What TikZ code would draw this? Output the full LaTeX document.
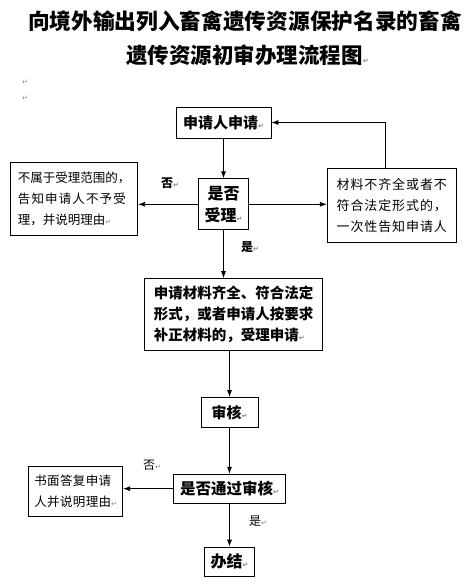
\documentclass[tikz,border=0pt]{standalone}
\usepackage{fontspec}
\setmainfont{Noto Sans CJK SC}
\newfontfamily\arrfont{DejaVu Sans}
\usepackage{tikz}
\usetikzlibrary{positioning,arrows.meta}
\newcommand{\ret}{{\arrfont\fontsize{7}{7}\selectfont\textcolor{gray}{↵}}}

\begin{document}
\begin{tikzpicture}[x=1pt,y=-1pt,>={Latex[length=7pt,width=5pt]},line width=0.8pt,
                    box/.style={draw, line width=0.8pt, align=center, inner sep=0pt},
                    bigb/.style={font=\bfseries\fontsize{15.5}{21}\selectfont},
                    smallt/.style={font=\fontsize{12.5}{21}\selectfont},
                    lab/.style={inner sep=0pt, font=\fontsize{12}{12}\selectfont}]
\useasboundingbox (0,0) rectangle (470,584);
\node[font=\bfseries\fontsize{21.7}{22}\selectfont, inner sep=0pt] (title1) at (245,21) {向境外输出列入畜禽遗传资源保护名录的畜禽};
\node[font=\bfseries\fontsize{21.5}{22}\selectfont, anchor=west, inner sep=0pt] (title2) at (126,55) {遗传资源初审办理流程图\ret};
\node[inner sep=0pt] (mark1) at (25,82) {\ret};
\node[inner sep=0pt] (mark2) at (25,98) {\ret};
\node[box, font=\bfseries\fontsize{15}{15}\selectfont, minimum width=95pt, minimum height=31pt] (apply) at (223.5,122.5) {申请人申请\ret};
\node[box, font=\bfseries\fontsize{16}{22}\selectfont, minimum width=50pt, minimum height=51pt, below=40pt of apply] (accept) {是否\\受理\ret};
\node[box, smallt, align=left, minimum width=127pt, minimum height=73pt, left=60pt of accept, yshift=5pt] (reject) {不属于受理范围的，\\{\addfontfeature{LetterSpace=9}告知申请人不予受}\\理，并说明理由\ret};
\node[box, font=\fontsize{13}{21}\selectfont\addfontfeature{LetterSpace=7}, minimum width=129pt, minimum height=74pt, right=78pt of accept, yshift=-1.5pt] (notify) {材料不齐全或者不\\符合法定形式的，\\一次性告知申请人};
\node[box, font=\bfseries\fontsize{14.5}{21}\selectfont, align=left, minimum width=178pt, minimum height=72pt, below=48pt of accept, xshift=10pt] (material) {申请材料齐全、符合法定\\形式，或者申请人按要求\\补正材料的，受理申请\ret};
\node[box, font=\bfseries\fontsize{15}{15}\selectfont, minimum width=57pt, minimum height=30pt, below=46pt of material, xshift=-4pt] (review) {审核\ret};
\node[box, bigb, minimum width=112pt, minimum height=29pt, below=46pt of review] (pass) {是否通过审核\ret};
\node[box, smallt, font=\fontsize{12.5}{21}\selectfont\addfontfeature{LetterSpace=3}, align=left, minimum width=94pt, minimum height=50pt, left=50pt of pass, yshift=-2.5pt] (reply) {书面答复申请\\人并说明理由\ret};
\node[box, font=\bfseries\fontsize{16}{16}\selectfont, minimum width=50pt, minimum height=29pt, below=43pt of pass] (done) {办结\ret};
\node[lab, font=\bfseries\fontsize{12}{12}\selectfont] (no1) at (170,183) {否\ret};
\node[lab, font=\bfseries\fontsize{12}{12}\selectfont] (yes1) at (250,247) {是\ret};
\node[lab] (no2) at (152,465) {否\ret};
\node[lab] (yes2) at (258,521) {是\ret};
\draw[->] (apply) -- (accept);
\draw[->] (accept.west) -- (accept.west -| reject.east);
\draw[->] (accept.east) -- (accept.east -| notify.west);
\draw[->] ([xshift=-6pt]notify.north) |- (apply.east);
\draw[->] (accept.south) -- (accept.south |- material.north);
\draw[->] (material.south -| review) -- (review);
\draw[->] (review) -- (pass);
\draw[->] (pass.west) -- (pass.west -| reply.east);
\draw[->] (pass) -- (done);
\end{tikzpicture}
\end{document}
